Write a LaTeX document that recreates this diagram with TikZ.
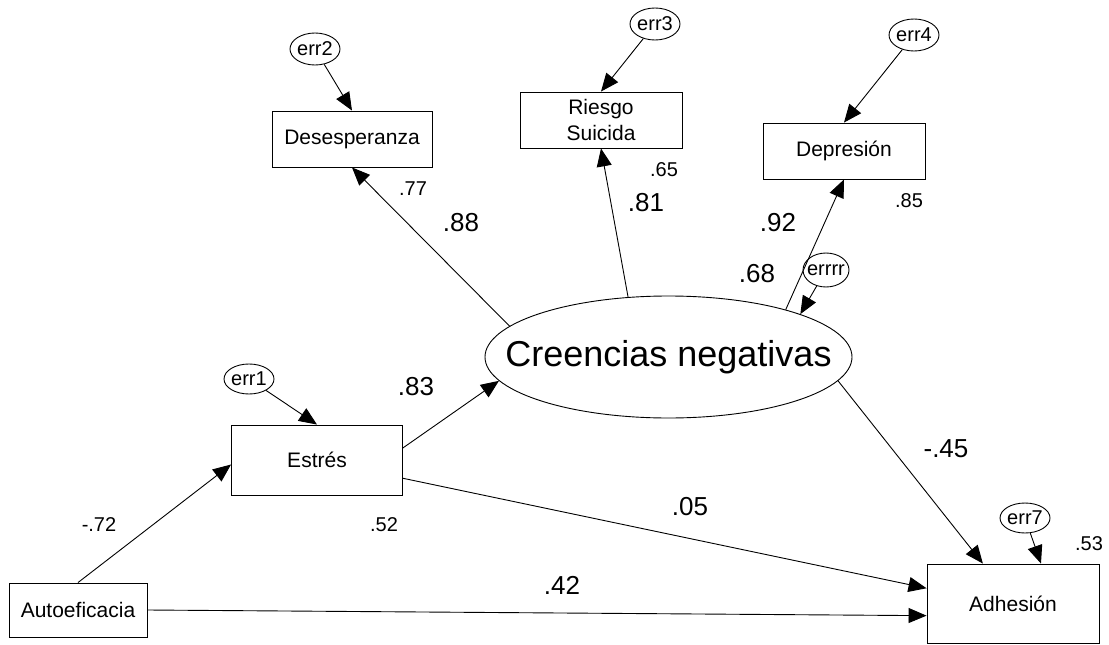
\documentclass[tikz,border=0pt]{standalone}
\usepackage{fontspec}
\setmainfont{Liberation Sans}
\usetikzlibrary{arrows.meta,shapes.geometric}
\tikzset{
  box/.style={draw,line width=0.9pt,rectangle,inner sep=0pt,align=center,font=\fontsize{21}{26}\selectfont},
  errnode/.style={draw,line width=0.9pt,ellipse,inner sep=0pt,minimum width=50pt,minimum height=32pt,
     label={[font=\fontsize{20}{24}\selectfont,inner sep=0pt]center:#1}},
  latent/.style={draw,line width=0.9pt,ellipse,inner sep=0pt,minimum width=367pt,minimum height=122pt,
     label={[font=\fontsize{36}{40}\selectfont,inner sep=0pt]center:#1}},
  path/.style={line width=0.9pt,-{Triangle[length=18pt,width=15pt]}},
  big/.style={font=\fontsize{26}{30}\selectfont,inner sep=0pt},
  small/.style={font=\fontsize{20}{24}\selectfont,inner sep=0pt}
}
\begin{document}
\begin{tikzpicture}[x=1pt,y=-1pt]
\useasboundingbox (0,0) rectangle (1109,645);
% observed variables
\node[box,minimum width=160pt,minimum height=56pt] (desp) at (352,139) {Desesperanza};
\node[box,minimum width=162pt,minimum height=56pt] (riesgo) at (601,120) {Riesgo\\Suicida};
\node[box,minimum width=162pt,minimum height=56pt] (depr) at (844,151) {Depresión};
\node[box,minimum width=171pt,minimum height=70pt] (estres) at (317,460) {Estrés};
\node[box,minimum width=138pt,minimum height=54pt] (auto) at (78,610) {Autoeficacia};
\node[box,minimum width=172pt,minimum height=79pt] (adh) at (1013,603.5) {Adhesión};
% latent
\node[latent={Creencias negativas}] (cre) at (668.5,357) {};
% errors
\node[errnode=err2] (err2) at (315,49) {};
\node[errnode=err3] (err3) at (655,24) {};
\node[errnode=err4] (err4) at (914,35) {};
\node[errnode=err1,minimum height=30pt] (err1) at (249,379) {};
\node[errnode=err7,minimum height=30pt] (err7) at (1025,518) {};
\node[errnode=errrr,minimum width=46pt,minimum height=34pt] (errrr) at (826,270) {};
% error arrows
\draw[path] (err2) -- (desp.north);
\draw[path] (err3) -- (riesgo.north);
\draw[path] (err4) -- (depr.north);
\draw[path] (err1) -- (estres.north);
\draw[path] (err7) -- (adh.55.6);
\draw[path] (errrr) -- (cre.18.6);
% structural paths
\draw[path] (cre.169.5) -- (desp.south);
\draw[path] (cre.124.6) -- (riesgo.south);
\draw[path] (cre.22.7) -- (depr.south);
\draw[path] (estres.8) -- (cre.188);
\draw[path] (estres.-12) -- (adh.170);
\draw[path] (auto.north) -- (estres.183);
\draw[path] (auto.east) -- (adh.188);
\draw[path] (cre.-8.4) -- (adh.127.2);
% labels
\node[small] (l77) at (413,189) {.77};
\node[big] (l88) at (461,223) {.88};
\node[small] (l65) at (664,170) {.65};
\node[big] (l81) at (646,203) {.81};
\node[big] (l92) at (778,223) {.92};
\node[small] (l85) at (909,201) {.85};
\node[big] (l68) at (757,274) {.68};
\node[big] (l83) at (416,387) {.83};
\node[big] (l45) at (946,449) {-.45};
\node[big] (l05) at (690,507) {.05};
\node[big] (l42) at (562,585) {.42};
\node[small] (l52) at (384,525) {.52};
\node[small] (l72) at (99,525) {-.72};
\node[small] (l53) at (1089,544) {.53};
\end{tikzpicture}
\end{document}
